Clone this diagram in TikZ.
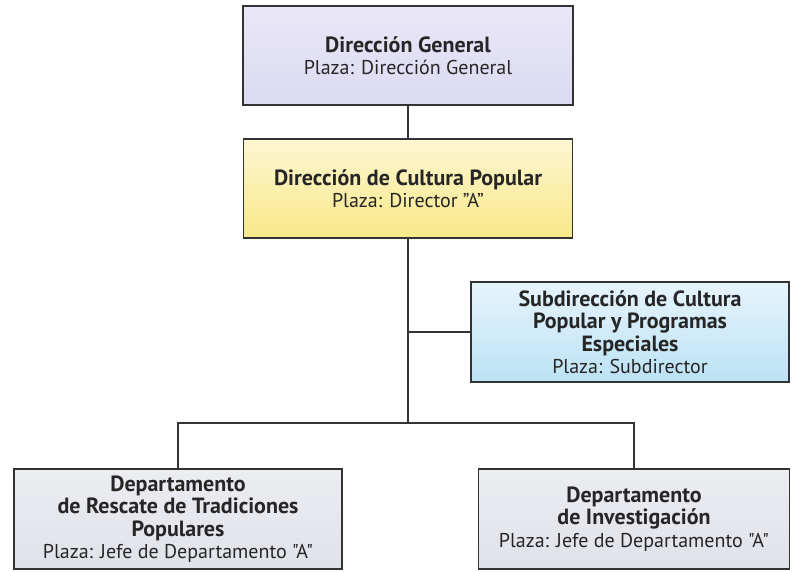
\documentclass[tikz,border=0pt]{standalone}
\usepackage{fontspec}
\setmainfont{PT Sans}[Ligatures=TeXOff]
\usetikzlibrary{positioning,calc}

\definecolor{lavtop}{HTML}{E9E7F7}
\definecolor{lavbot}{HTML}{DCDAF2}
\definecolor{yeltop}{HTML}{FDF6D2}
\definecolor{yelbot}{HTML}{F9E888}
\definecolor{blutop}{HTML}{E6F4FC}
\definecolor{blubot}{HTML}{BCE2F5}
\definecolor{grytop}{HTML}{ECEDF1}
\definecolor{grybot}{HTML}{E0E2E9}
\definecolor{edge}{HTML}{333333}
\definecolor{ink}{HTML}{262626}

\newcommand{\unidad}[1]{{\fontsize{22}{22.5}\selectfont\bfseries #1}}
\newcommand{\plaza}[1]{{\fontsize{20}{22.5}\selectfont #1}}

\begin{document}
\begin{tikzpicture}[
  x=1pt, y=-1pt,
  font=\fontsize{20}{22.5}\selectfont, text=ink,
  box/.style={draw=edge, line width=1.6pt, align=center, inner sep=2pt, minimum height=99pt},
  general/.style={box, top color=lavtop, bottom color=lavbot, minimum width=330pt},
  cultura/.style={box, top color=yeltop, bottom color=yelbot, minimum width=329pt},
  subdir/.style={box, top color=blutop, bottom color=blubot, minimum width=318pt, minimum height=100pt},
  depto/.style={box, top color=grytop, bottom color=grybot, minimum height=100pt},
  link/.style={draw=edge, line width=1.4pt}
]
\useasboundingbox (0,0) rectangle (792,571);

\node[general] (dg) at (408,55.5) {
  \unidad{Dirección General}\\
  \plaza{Plaza: Dirección General}
};
\node[cultura] (dcp) at (408,188.5) {
  \unidad{Dirección de Cultura Popular}\\
  \plaza{Plaza: Director ”A”}
};
\node[subdir] (sub) at (630,332) {
  \unidad{Subdirección de Cultura}\\
  \unidad{Popular y Programas}\\
  \unidad{Especiales}\\
  \plaza{Plaza: Subdirector}
};
\node[depto, minimum width=328pt] (rescate) at (178,519) {
  \unidad{Departamento}\\
  \unidad{de Rescate de Tradiciones}\\
  \unidad{Populares}\\
  \plaza{Plaza: Jefe de Departamento "A"}
};
\node[depto, minimum width=311pt] (inv) at (634,519) {
  \unidad{Departamento}\\
  \unidad{de Investigación}\\
  \plaza{Plaza: Jefe de Departamento "A"}
};

\coordinate (bus) at (408,423);

\draw[link] (dg) -- (dcp);
\draw[link] (dcp.south) -- (bus);
\draw[link] (sub.west) -- (sub.west -| dcp.south);
\draw[link] (bus) -| (rescate.north);
\draw[link] (bus) -| (inv.north);

\end{tikzpicture}
\end{document}
